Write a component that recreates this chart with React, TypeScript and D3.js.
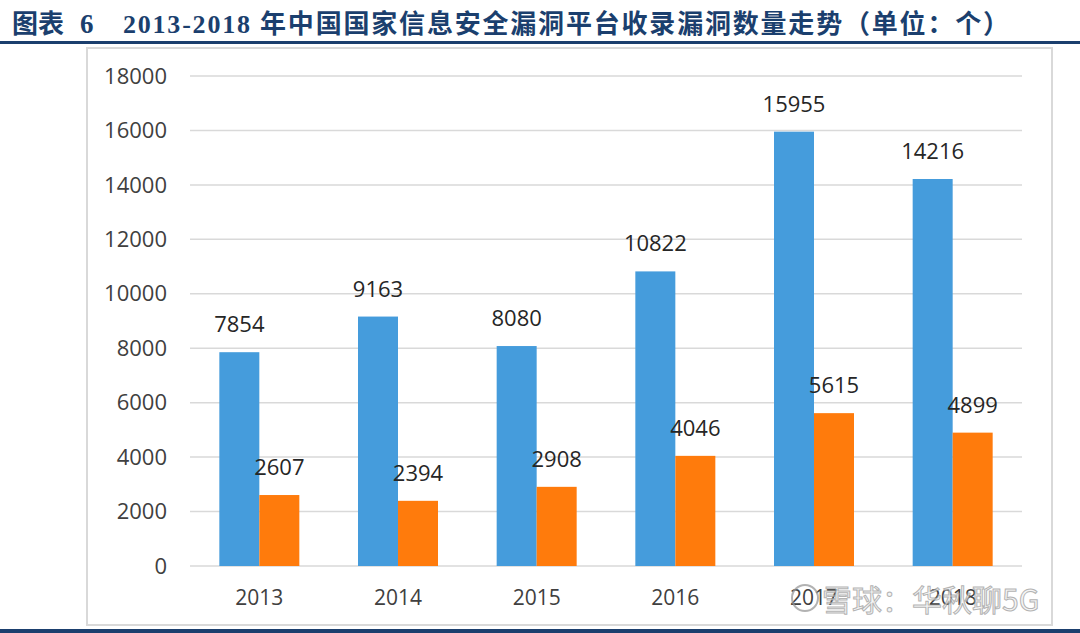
import { useEffect } from "react"
import * as d3 from "d3"

// chart data
const years = ["2013", "2014", "2015", "2016", "2017", "2018"]
const totalVulns = [7854, 9163, 8080, 10822, 15955, 14216]
const highRiskVulns = [2607, 2394, 2908, 4046, 5615, 4899]
const yTicks = [0, 2000, 4000, 6000, 8000, 10000, 12000, 14000, 16000, 18000]

const title = "2013-2018 年中国国家信息安全漏洞平台收录漏洞数量走势（单位：个）"

const W = 1080
const H = 633
const plot = { left: 190, right: 1022, top: 76, bottom: 566 }

const blue = "#459cdc"
const orange = "#ff7b0c"
const navy = "#1b3f6e"
const font = "'Open Sans', 'Noto Sans', sans-serif"

export default function App() {
  useEffect(() => {
    document.body.style.margin = "0"
  }, [])

  const y = d3.scaleLinear().domain([0, 18000]).range([plot.bottom, plot.top])
  const x = d3.scaleBand().domain(years).range([plot.left, plot.right])
  const barW = 40
  const series = [
    { values: totalVulns, color: blue, offset: -barW },
    { values: highRiskVulns, color: orange, offset: 0 },
  ]

  return (
    <svg width={W} height={H} style={{ display: "block" }}>
      <rect width={W} height={H} fill="#fff" />

      {/* title */}
      <text x={12} y={33} fill={navy} fontWeight="bold" fontSize={26}
        fontFamily="'Noto Sans CJK SC', sans-serif">
        图表
      </text>
      <text x={80} y={33} fill={navy} fontWeight="bold" fontSize={27}
        fontFamily="'Liberation Serif', 'Times New Roman', serif">
        6
      </text>
      <text x={123} y={33} fill={navy} fontWeight="bold" fontSize={26}
        fontFamily="'Liberation Serif', 'Noto Sans CJK SC', serif"
        textLength={886} lengthAdjust="spacing">
        {title}
      </text>
      <rect x={0} y={41} width={W} height={3} fill={navy} />

      {/* chart frame */}
      <rect x={87} y={48} width={965} height={577} fill="none" stroke="#d9d9d9" strokeWidth={2} />

      {/* grid + y ticks */}
      {yTicks.map((t) => (
        <g key={t}>
          <line x1={plot.left} x2={plot.right} y1={y(t)} y2={y(t)} stroke="#d9d9d9" strokeWidth={1.5} />
          <text x={167} y={y(t)} dy="0.35em" textAnchor="end" fontSize={22} fill="#404040" fontFamily={font}>
            {t}
          </text>
        </g>
      ))}

      {/* bars + labels */}
      {series.map((s, si) =>
        years.map((yr, i) => {
          const cx = (x(yr) as number) + x.bandwidth() / 2 + s.offset
          return (
            <g key={`${si}-${yr}`}>
              <rect x={cx} y={y(s.values[i])} width={barW} height={plot.bottom - y(s.values[i])} fill={s.color} />
              <text x={cx + barW / 2} y={y(s.values[i]) - 20} textAnchor="middle" fontSize={22}
                fill="#262626" fontFamily={font}>
                {s.values[i]}
              </text>
            </g>
          )
        })
      )}

      {/* x labels */}
      {years.map((yr) => (
        <text key={yr} x={(x(yr) as number) + x.bandwidth() / 2} y={605} textAnchor="middle"
          fontSize={21} fill="#404040" fontFamily={font}>
          {yr}
        </text>
      ))}

      {/* watermark */}
      <g opacity={0.75}>
        <circle cx={805} cy={598} r={13} fill="none" stroke="#999" strokeWidth={2} />
        <text x={822} y={611} fontSize={30} fill="#f2f2f2" stroke="#9a9a9a" strokeWidth={1}
          fontFamily="'Noto Sans CJK SC', sans-serif">
          雪球：华秋聊5G
        </text>
      </g>

      <rect x={0} y={629} width={W} height={4} fill={navy} />
    </svg>
  )
}
